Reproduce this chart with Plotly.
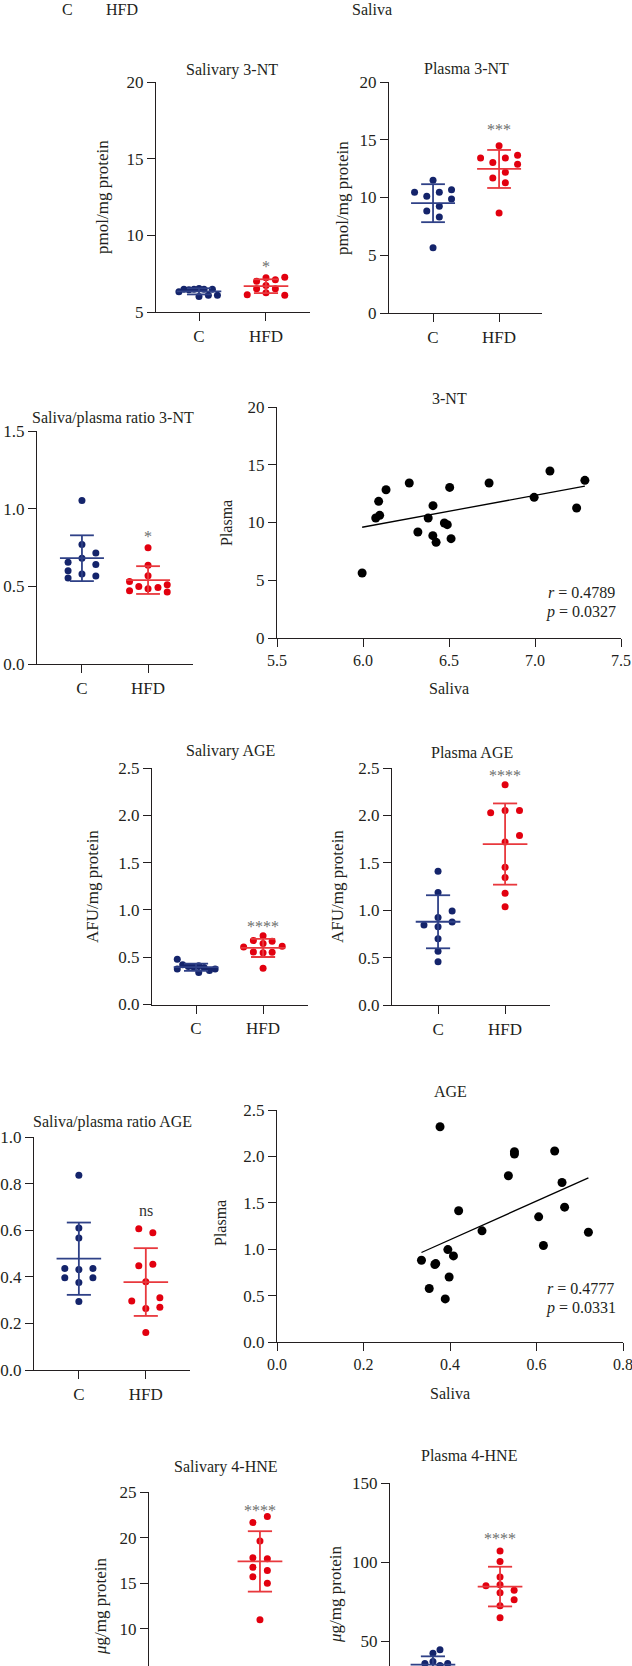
"""
Oxidative/nitrosative stress markers in saliva and plasma (C vs HFD)
"""
import numpy as np
import plotly.graph_objects as go

W, H = 632, 1666
FONT = "Liberation Serif"
INK = "#231f20"
NAVY = "#14246b"
NAVY_LINE = "#2f4187"
RED = "#e2000f"
RED_LINE = "#e8383d"
STAR = "#6e6e6e"
TICK_SIZE = 17
TITLE_SIZE = 16
LABEL_SIZE = 17

groups = ["C", "HFD"]

# ---- Salivary 3-NT (pmol/mg protein)
sal_3nt_c = [6.32, 6.49, 6.45, 6.49, 6.53, 6.01, 6.49, 6.10, 6.49, 6.10]
sal_3nt_hfd = [6.12, 7.01, 7.23, 7.10, 7.27, 6.51, 6.73, 6.51, 6.25, 6.10]

# ---- Plasma 3-NT (pmol/mg protein)
pla_3nt_c = [10.45, 10.10, 11.49, 10.45, 10.68, 9.87, 9.24, 8.83, 8.31, 5.66]
pla_3nt_hfd = [14.49, 13.42, 13.04, 13.42, 13.65, 12.87, 11.69, 12.18, 11.28, 8.66]

# ---- Saliva/plasma ratio 3-NT
ratio_3nt_c = [1.052, 0.770, 0.655, 0.680, 0.715, 0.600, 0.640, 0.553, 0.579, 0.566]
ratio_3nt_hfd = [0.748, 0.636, 0.568, 0.531, 0.510, 0.471, 0.499, 0.484, 0.493, 0.463]

# ---- 3-NT correlation (saliva vs plasma)
corr_3nt_saliva = [5.995, 6.074, 6.097, 6.091, 6.134, 6.269, 6.319, 6.379, 6.407, 6.406,
                   6.425, 6.473, 6.490, 6.504, 6.512, 6.733, 6.995, 7.087, 7.242, 7.290]
corr_3nt_plasma = [5.63, 10.39, 10.62, 11.83, 12.84, 13.42, 9.18, 10.39, 11.46, 8.86,
                   8.28, 9.96, 9.81, 13.04, 8.60, 13.42, 12.18, 14.46, 11.26, 13.65]
corr_3nt_r = "0.4789"
corr_3nt_p = "0.0327"

# ---- Salivary AGE (AFU/mg protein)
sal_age_c = [0.479, 0.374, 0.419, 0.401, 0.400, 0.410, 0.338, 0.390, 0.360, 0.374]
sal_age_hfd = [0.726, 0.676, 0.669, 0.609, 0.644, 0.616, 0.556, 0.553, 0.546, 0.384]

# ---- Plasma AGE (AFU/mg protein)
pla_age_c = [1.410, 1.188, 0.991, 0.924, 0.844, 0.875, 0.826, 0.699, 0.566, 0.457]
pla_age_hfd = [2.323, 2.028, 2.053, 2.053, 1.789, 1.719, 1.452, 1.346, 1.178, 1.037]

# ---- Saliva/plasma ratio AGE
ratio_age_c = [0.836, 0.609, 0.567, 0.436, 0.431, 0.436, 0.396, 0.396, 0.376, 0.294]
ratio_age_hfd = [0.606, 0.589, 0.447, 0.454, 0.379, 0.296, 0.310, 0.264, 0.269, 0.161]

# ---- AGE correlation (saliva vs plasma)
corr_age_saliva = [0.377, 0.334, 0.367, 0.365, 0.352, 0.395, 0.408, 0.398, 0.389, 0.420,
                   0.474, 0.535, 0.549, 0.549, 0.642, 0.659, 0.665, 0.605, 0.616, 0.720]
corr_age_plasma = [2.320, 0.881, 0.845, 0.835, 0.576, 0.996, 0.928, 0.701, 0.464, 1.414,
                   1.198, 1.791, 2.050, 2.025, 2.058, 1.719, 1.453, 1.349, 1.040, 1.183]
corr_age_r = "0.4777"
corr_age_p = "0.0331"

# ---- Salivary 4-HNE (ug/mg protein), only HFD visible in the crop
sal_hne_hfd = [22.32, 21.65, 19.63, 17.79, 17.68, 16.76, 16.40, 15.70, 15.00, 10.99]

# ---- Plasma 4-HNE (ug/mg protein)
pla_hne_c = [44.5, 42.2, 37.0, 35.8, 35.8, 34.5, 32.0, 31.0, 30.0, 28.0]
pla_hne_hfd = [106.96, 100.40, 90.50, 85.00, 85.65, 82.10, 80.60, 76.20, 72.40, 64.80]

# significance labels above HFD and the value where they sit
sig_text = ["*", "***", "*", "****", "****", "ns", "****", "****"]
sig_at = [8.2, 16.2, 0.845, 0.866, 2.46, 0.686, 23.4, 117.3]

# horizontal swarm offsets (fraction of C-HFD spacing)
sal_3nt_c_dx = [-0.30, -0.225, -0.15, -0.075, 0, 0, 0.075, 0.14, 0.20, 0.275]
sal_3nt_hfd_dx = [-0.28, -0.14, 0, 0.14, 0.28, -0.14, 0, 0.14, 0, 0.28]
pla_3nt_c_dx = [-0.28, -0.095, 0, 0.095, 0.28, 0.28, 0.095, -0.095, 0.095, 0]
pla_3nt_hfd_dx = [0, -0.28, -0.095, 0.095, 0.28, 0.28, -0.095, 0.095, 0.095, 0]
ratio_3nt_c_dx = [0, 0, -0.21, 0, 0.21, -0.21, 0.21, -0.21, 0, 0.21]
ratio_3nt_hfd_dx = [0, 0, 0, -0.28, 0.29, -0.28, -0.14, 0, 0.15, 0.29]
sal_age_c_dx = [-0.28, -0.28, -0.2, -0.115, -0.04, 0.04, 0.04, 0.12, 0.2, 0.285]
sal_age_hfd_dx = [0, -0.145, 0.135, -0.29, 0, 0.285, -0.145, 0.135, 0, 0]
pla_age_c_dx = [0, 0, 0.21, 0, -0.21, 0.21, 0, 0, 0, 0]
pla_age_hfd_dx = [0, -0.215, 0, 0.215, 0.215, 0, 0, 0, 0, 0]
ratio_age_c_dx = [0, 0, 0, -0.21, 0, 0.21, -0.21, 0.21, 0, 0]
ratio_age_hfd_dx = [-0.105, 0.105, -0.105, 0.105, 0, -0.21, 0.21, 0, 0.21, 0]
sal_hne_hfd_dx = [0.11, -0.105, 0, -0.105, 0.11, -0.105, 0.11, -0.105, 0.11, 0]
pla_hne_c_dx = [0.105, 0, 0, -0.12, 0.22, 0.105, -0.105, 0, 0.105, 0]
pla_hne_hfd_dx = [0, 0, 0, -0.21, 0, 0.21, 0, 0.21, 0, 0]


fig = go.Figure()


def suffix(n):
    return "" if n == 1 else str(n)


def setup_axes(n, x_px, y_px, xrange, yrange, ytick, xtick=(0, 1), xtext=groups,
               yfmt=None, xfmt=None, hide_x=False, xsize=TICK_SIZE):
    """Create one x/y axis pair placed by pixel box (left, right), (top, bottom)"""
    s = suffix(n)
    common = dict(showline=True, linecolor=INK, linewidth=1.4, ticks="outside",
                  ticklen=8, tickwidth=1.4, tickcolor=INK, showgrid=False,
                  zeroline=False, automargin=False, fixedrange=True,
                  ticklabeloverflow="allow")
    xa = dict(domain=[x_px[0] / W, x_px[1] / W], range=xrange, anchor="y" + s,
              tickvals=list(xtick), tickfont=dict(family=FONT, size=xsize, color=INK),
              **common)
    if xtext is not None:
        xa["ticktext"] = list(xtext)
    if xfmt:
        xa["tickformat"] = xfmt
    if hide_x:
        # bottom of these panels is cropped away in the figure
        xa.update(showline=False, ticks="", showticklabels=False)
    ya = dict(domain=[1 - y_px[1] / H, 1 - y_px[0] / H], range=yrange,
              anchor="x" + s, tickvals=list(ytick),
              tickfont=dict(family=FONT, size=TICK_SIZE, color=INK), **common)
    if yfmt:
        ya["tickformat"] = yfmt
    fig.update_layout({"xaxis" + s: xa, "yaxis" + s: ya})


def add_group(n, values, dx, center, color, line_color):
    """Dot plot for one group with mean +/- SD"""
    s = suffix(n)
    xs = [center + d for d in dx]
    fig.add_trace(go.Scatter(x=xs, y=values, mode="markers",
                             marker=dict(color=color, size=7),
                             xaxis="x" + s, yaxis="y" + s, showlegend=False))
    m = float(np.mean(values))
    sd = float(np.std(values, ddof=1))
    xl = [center - 0.333, center + 0.333, None, center, center, None,
          center - 0.18, center + 0.18, None, center - 0.18, center + 0.18]
    yl = [m, m, None, m - sd, m + sd, None, m + sd, m + sd, None, m - sd, m - sd]
    fig.add_trace(go.Scatter(x=xl, y=yl, mode="lines",
                             line=dict(color=line_color, width=1.8),
                             xaxis="x" + s, yaxis="y" + s, showlegend=False))


def add_sig(n, text, y):
    s = suffix(n)
    star = text != "ns"
    fig.add_annotation(x=1, y=y, xref="x" + s, yref="y" + s, text=text,
                       showarrow=False, yshift=-4 if star else 0,
                       font=dict(family=FONT, size=16,
                                 color=STAR if star else "#333333"))


def add_corr(n, sx, py):
    """Correlation scatter with least-squares line"""
    s = suffix(n)
    fig.add_trace(go.Scatter(x=sx, y=py, mode="markers",
                             marker=dict(color="black", size=9),
                             xaxis="x" + s, yaxis="y" + s, showlegend=False))
    slope, icpt = np.polyfit(sx, py, 1)
    xf = np.array([min(sx), max(sx)])
    fig.add_trace(go.Scatter(x=xf, y=slope * xf + icpt, mode="lines",
                             line=dict(color="black", width=1.3),
                             xaxis="x" + s, yaxis="y" + s, showlegend=False))


def txt(x, y, text, angle=0, xanchor="center", size=LABEL_SIZE, color=INK):
    fig.add_annotation(x=x / W, y=1 - y / H, xref="paper", yref="paper", text=text,
                       showarrow=False, textangle=angle, xanchor=xanchor,
                       yanchor="middle", borderpad=0,
                       font=dict(family=FONT, size=size, color=color))


# ---- panel boxes
setup_axes(1, (156, 310), (82, 312), [-0.642, 1.657], [5, 20], [5, 10, 15, 20])
setup_axes(2, (389, 542), (82, 313), [-0.667, 1.65], [0, 20], [0, 5, 10, 15, 20])
setup_axes(3, (37, 193), (431, 664), [-0.68, 1.68], [0, 1.5], [0, 0.5, 1.0, 1.5], yfmt=".1f")
setup_axes(4, (277, 621), (407, 638), [5.5, 7.5], [0, 20], [0, 5, 10, 15, 20],
           xtick=[5.5, 6.0, 6.5, 7.0, 7.5], xtext=None, xfmt=".1f", xsize=16)
setup_axes(5, (152, 308), (768, 1004.5), [-0.657, 1.67], [0, 2.5],
           [0, 0.5, 1.0, 1.5, 2.0, 2.5], yfmt=".1f")
setup_axes(6, (392, 550), (768, 1005), [-0.687, 1.67], [0, 2.5],
           [0, 0.5, 1.0, 1.5, 2.0, 2.5], yfmt=".1f")
setup_axes(7, (34, 190), (1137, 1370), [-0.67, 1.66], [0, 1.0],
           [0, 0.2, 0.4, 0.6, 0.8, 1.0], yfmt=".1f")
setup_axes(8, (277, 623), (1110, 1342), [0, 0.8], [0, 2.5], [0, 0.5, 1.0, 1.5, 2.0, 2.5],
           xtick=[0, 0.2, 0.4, 0.6, 0.8], xtext=None, yfmt=".1f", xfmt=".1f", xsize=16)
setup_axes(9, (149, 305), (1492, 1666), [-0.65, 1.67], [5.93, 25], [10, 15, 20, 25],
           hide_x=True)
setup_axes(10, (390, 545), (1483, 1666), [-0.64, 1.67], [34.2, 150], [50, 100, 150],
           hide_x=True)

# ---- group dot plots
add_group(1, sal_3nt_c, sal_3nt_c_dx, 0, NAVY, NAVY_LINE)
add_group(1, sal_3nt_hfd, sal_3nt_hfd_dx, 1, RED, RED_LINE)
add_group(2, pla_3nt_c, pla_3nt_c_dx, 0, NAVY, NAVY_LINE)
add_group(2, pla_3nt_hfd, pla_3nt_hfd_dx, 1, RED, RED_LINE)
add_group(3, ratio_3nt_c, ratio_3nt_c_dx, 0, NAVY, NAVY_LINE)
add_group(3, ratio_3nt_hfd, ratio_3nt_hfd_dx, 1, RED, RED_LINE)
add_group(5, sal_age_c, sal_age_c_dx, 0, NAVY, NAVY_LINE)
add_group(5, sal_age_hfd, sal_age_hfd_dx, 1, RED, RED_LINE)
add_group(6, pla_age_c, pla_age_c_dx, 0, NAVY, NAVY_LINE)
add_group(6, pla_age_hfd, pla_age_hfd_dx, 1, RED, RED_LINE)
add_group(7, ratio_age_c, ratio_age_c_dx, 0, NAVY, NAVY_LINE)
add_group(7, ratio_age_hfd, ratio_age_hfd_dx, 1, RED, RED_LINE)
add_group(9, sal_hne_hfd, sal_hne_hfd_dx, 1, RED, RED_LINE)
add_group(10, pla_hne_c, pla_hne_c_dx, 0, NAVY, NAVY_LINE)
add_group(10, pla_hne_hfd, pla_hne_hfd_dx, 1, RED, RED_LINE)

for n, t, y in zip([1, 2, 3, 5, 6, 7, 9, 10], sig_text, sig_at):
    add_sig(n, t, y)

# ---- correlations
add_corr(4, corr_3nt_saliva, corr_3nt_plasma)
add_corr(8, corr_age_saliva, corr_age_plasma)
txt(616, 592, "<i>r</i> = " + corr_3nt_r, xanchor="right", size=16)
txt(617, 612, "<i>p</i> = " + corr_3nt_p, xanchor="right", size=16)
txt(615, 1288, "<i>r</i> = " + corr_age_r, xanchor="right", size=16)
txt(617, 1308, "<i>p</i> = " + corr_age_p, xanchor="right", size=16)

# ---- titles and axis labels
txt(232, 70, "Salivary 3-NT", size=TITLE_SIZE)
txt(466, 68, "Plasma 3-NT", size=TITLE_SIZE)
txt(113, 418, "Saliva/plasma ratio 3-NT", size=TITLE_SIZE)
txt(449, 398, "3-NT", size=TITLE_SIZE)
txt(230, 751, "Salivary AGE", size=TITLE_SIZE)
txt(472, 752, "Plasma AGE", size=TITLE_SIZE)
txt(112, 1122, "Saliva/plasma ratio AGE", size=TITLE_SIZE)
txt(450, 1091, "AGE", size=TITLE_SIZE)
txt(226, 1467, "Salivary 4-HNE", size=TITLE_SIZE)
txt(469, 1455, "Plasma 4-HNE", size=TITLE_SIZE)

txt(102, 197, "pmol/mg protein", angle=-90)
txt(342, 198, "pmol/mg protein", angle=-90)
txt(93, 887, "AFU/mg protein", angle=-90)
txt(338, 887, "AFU/mg protein", angle=-90)
txt(100, 1607, "<i>μ</i>g/mg protein", angle=-90)
txt(335, 1595, "<i>μ</i>g/mg protein", angle=-90)
txt(227, 523, "Plasma", angle=-90, size=TITLE_SIZE)
txt(220, 1223, "Plasma", angle=-90, size=TITLE_SIZE)
txt(449, 688, "Saliva", size=TITLE_SIZE)
txt(450, 1393, "Saliva", size=TITLE_SIZE)

# remnants of the panel row above (cropped)
txt(67, 9, "C", size=16)
txt(122, 9, "HFD", size=16)
txt(372, 9, "Saliva", size=TITLE_SIZE)

fig.update_layout(
    width=W, height=H,
    margin=dict(l=0, r=0, t=0, b=0),
    template="none",
    paper_bgcolor="white",
    plot_bgcolor="white",
    showlegend=False,
)

# drop the browser's default 8px body margin so the figure sits at the page origin
fig.write_html("out.html",
               config={"displayModeBar": False},
               post_script="document.body.style.margin='0';"
                           "document.body.style.overflow='hidden';")
